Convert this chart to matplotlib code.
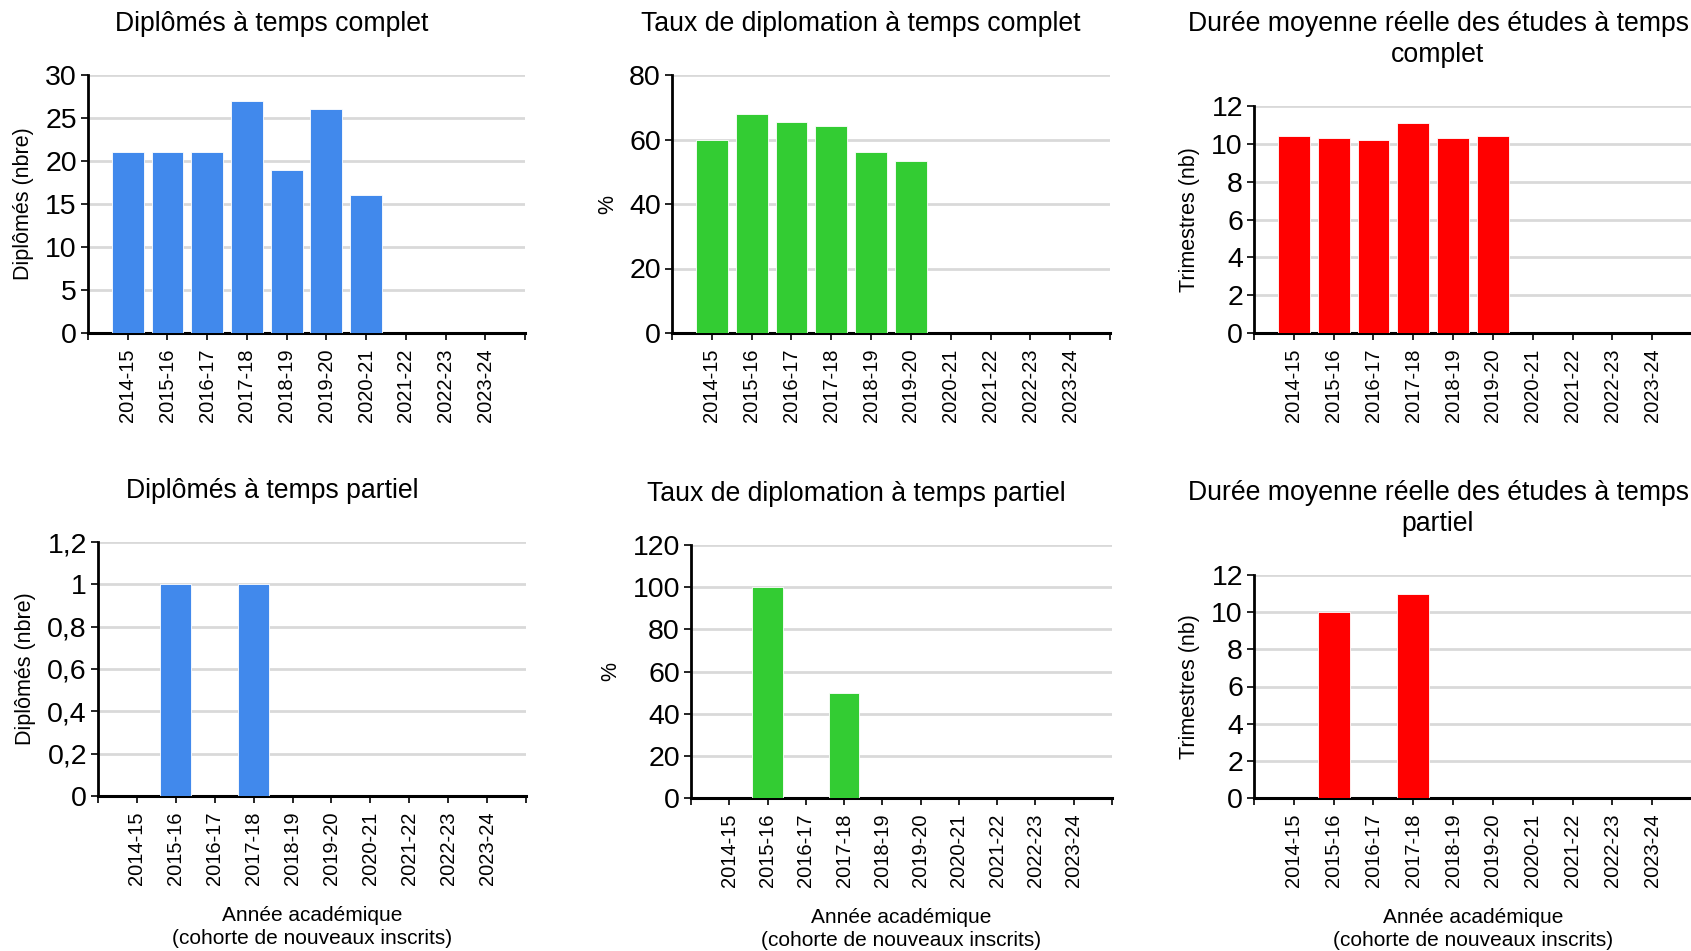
import numpy as np
import matplotlib
matplotlib.use('Agg')
import matplotlib.pyplot as plt
from matplotlib.ticker import FuncFormatter

plt.rcParams['font.family'] = ['Liberation Sans', 'DejaVu Sans']

# ---- données ----
annees = ['2014-15', '2015-16', '2016-17', '2017-18', '2018-19',
          '2019-20', '2020-21', '2021-22', '2022-23', '2023-24']

dipl_complet = [21, 21, 21, 27, 19, 26, 16, np.nan, np.nan, np.nan]
taux_complet = [60.0, 67.8, 65.5, 64.3, 56.0, 53.2, np.nan, np.nan, np.nan, np.nan]
duree_complet = [10.4, 10.3, 10.2, 11.1, 10.3, 10.4, np.nan, np.nan, np.nan, np.nan]

dipl_partiel = [np.nan, 1, np.nan, 1, np.nan, np.nan, np.nan, np.nan, np.nan, np.nan]
taux_partiel = [np.nan, 100, np.nan, 50, np.nan, np.nan, np.nan, np.nan, np.nan, np.nan]
duree_partiel = [np.nan, 10, np.nan, 11, np.nan, np.nan, np.nan, np.nan, np.nan, np.nan]

BLEU = '#4189ec'
VERT = '#33cc33'
ROUGE = '#ff0000'

W, H = 1691, 951
fig = plt.figure(figsize=(W / 100, H / 100), dpi=100)


def box(x0, y0, x1, y1):
    # coordonnées en pixels (origine en haut à gauche) -> fraction de figure
    return [x0 / W, 1 - y1 / H, (x1 - x0) / W, (y1 - y0) / H]


def virgule(v, pos):
    s = f'{v:g}'
    return s.replace('.', ',')


def panneau(px, valeurs, couleur, ymax, pas, titre, titre_cx, ylabel, xlabel=False):
    x0, y0, x1, y1 = px
    ax = fig.add_axes(box(x0, y0, x1, y1))
    x = np.arange(len(annees))
    ax.bar(x, valeurs, width=0.8, color=couleur, edgecolor='white',
           linewidth=0.6, zorder=3)
    ax.set_xlim(-1, len(annees))
    ax.set_ylim(0, ymax)
    ax.set_yticks(np.arange(0, ymax + pas / 2, pas))
    ax.yaxis.set_major_formatter(FuncFormatter(virgule))
    ax.grid(axis='y', color='#d9d9d9', linewidth=2, zorder=0)
    ax.set_axisbelow(True)

    # graduations x : une par catégorie plus les deux extrémités
    ax.set_xticks(np.arange(-1, len(annees) + 1))
    ax.set_xticklabels([''] + annees + [''], rotation=90, fontsize=14.5)
    ax.tick_params(axis='x', length=5, width=1.2, pad=6)
    ax.tick_params(axis='y', length=5, width=1.2, labelsize=20.5, pad=3)

    for s in ['top', 'right']:
        ax.spines[s].set_visible(False)
    ax.spines['left'].set_linewidth(2)
    ax.spines['bottom'].set_linewidth(2.2)

    ax.set_ylabel(ylabel, fontsize=15.5, labelpad=8)
    ax.set_title(titre, fontsize=19.2, x=(titre_cx - x0) / (x1 - x0),
                 pad=32, linespacing=1.25)
    if xlabel:
        ax.set_xlabel('Année académique\n(cohorte de nouveaux inscrits)',
                      fontsize=15, labelpad=15, linespacing=1.3)
    return ax


panneau((88, 75, 525, 333), dipl_complet, BLEU, 30, 5,
        'Diplômés à temps complet', 272, 'Diplômés (nbre)')
panneau((672, 75, 1110, 333), taux_complet, VERT, 80, 20,
        'Taux de diplomation à temps complet', 861, '%')
panneau((1254, 106, 1692, 333), duree_complet, ROUGE, 12, 2,
        'Durée moyenne réelle des études à temps\ncomplet', 1438, 'Trimestres (nb)')

panneau((98, 542, 526, 796), dipl_partiel, BLEU, 1.2, 0.2,
        'Diplômés à temps partiel', 272, 'Diplômés (nbre)', xlabel=True)
panneau((691, 545, 1112, 798), taux_partiel, VERT, 120, 20,
        'Taux de diplomation à temps partiel', 856, '%', xlabel=True)
panneau((1254, 575, 1692, 798), duree_partiel, ROUGE, 12, 2,
        'Durée moyenne réelle des études à temps\npartiel', 1438, 'Trimestres (nb)',
        xlabel=True)

fig.savefig('out.png', dpi=100)
